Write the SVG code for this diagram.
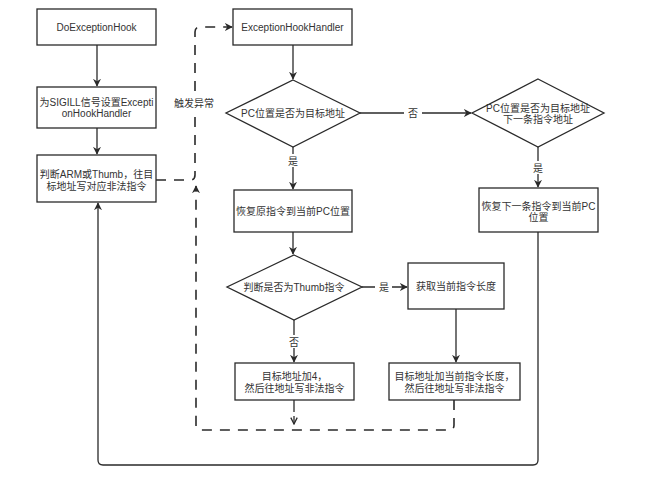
<svg xmlns="http://www.w3.org/2000/svg" width="662" height="480" viewBox="0 0 662 480">
<style>
.box{fill:#fff;stroke:#2a2a2a;stroke-width:1.3}
.t{font-family:"Liberation Sans","Noto Sans CJK SC",sans-serif;font-size:10px;fill:#333;text-anchor:middle}
.c{fill:none;stroke:#2a2a2a;stroke-width:1.3}
.d{fill:none;stroke:#2a2a2a;stroke-width:1.6;stroke-dasharray:10,8}
.lbl{fill:#fff}
</style>
<defs>
<marker id="a" viewBox="0 0 10 10" refX="9" refY="5" markerWidth="8" markerHeight="8" markerUnits="userSpaceOnUse" orient="auto">
<path d="M0,0 L10,5 L0,10 L3,5 z" fill="#2a2a2a"/>
</marker>
<marker id="v" viewBox="0 0 10 10" refX="9" refY="5" markerWidth="8" markerHeight="8" markerUnits="userSpaceOnUse" orient="auto">
<path d="M1,1 L9,5 L1,9" fill="none" stroke="#2a2a2a" stroke-width="1.6"/>
</marker>
</defs>
<rect width="662" height="480" fill="#fff"/>
<g id="connectors">
<path class="c" d="M97,45 V86" marker-end="url(#a)"/>
<path class="c" d="M97,128 V154" marker-end="url(#a)"/>
<path class="d" d="M156,180 H190 Q195,180 195,175 V32 Q195,27 200,27 H232" marker-end="url(#a)"/>
<path class="c" d="M293,45 V79" marker-end="url(#a)"/>
<path class="c" d="M360,113 H471" marker-end="url(#a)"/>
<path class="c" d="M293,147 V189" marker-end="url(#a)"/>
<path class="c" d="M538,147 V187" marker-end="url(#a)"/>
<path class="c" d="M538,232 V460 Q538,465 533,465 H103 Q98,465 98,460 V203" marker-end="url(#a)"/>
<path class="c" d="M293,232 V254" marker-end="url(#a)"/>
<path class="c" d="M362,287 H407" marker-end="url(#a)"/>
<path class="c" d="M294,320 V362" marker-end="url(#a)"/>
<path class="c" d="M456,309 V362" marker-end="url(#a)"/>
<path class="c" d="M294,400 V412"/>
<path class="c" d="M294,416 V424" marker-end="url(#v)"/>
<path class="d" d="M454,400 V425 Q454,430 449,430 H201 Q196,430 196,425 V186" marker-end="url(#a)"/>
<rect class="lbl" x="404" y="106" width="18" height="14"/>
<text class="t" x="413" y="117">否</text>
<rect class="lbl" x="285" y="154" width="16" height="13"/>
<text class="t" x="293" y="165">是</text>
<rect class="lbl" x="530" y="161" width="16" height="13"/>
<text class="t" x="538" y="172">是</text>
<rect class="lbl" x="375" y="280" width="17" height="13"/>
<text class="t" x="384" y="291">是</text>
<rect class="lbl" x="286" y="335" width="16" height="13"/>
<text class="t" x="294" y="346">否</text>
<rect class="lbl" x="174" y="96" width="40" height="14"/>
<text class="t" x="194" y="107">触发异常</text>
</g>
<g id="n1"><rect class="box" x="37" y="9" width="119" height="36"/><text class="t" x="96.500" y="31">DoExceptionHook</text></g>
<g id="n2"><rect class="box" x="37" y="87" width="119" height="41"/><text class="t" x="96.500" y="106">为SIGILL信号设置Excepti</text><text class="t" x="96.500" y="117">onHookHandler</text></g>
<g id="n3"><rect class="box" x="37" y="155" width="119" height="47"/><text class="t" x="96.500" y="178">判断ARM或Thumb，往目</text><text class="t" x="96.500" y="190">标地址写对应非法指令</text></g>
<g id="n4"><rect class="box" x="233" y="9" width="119" height="36"/><text class="t" x="292.500" y="31">ExceptionHookHandler</text></g>
<g id="n5"><polygon class="box" points="293,80 360,113 293,147 226,113"/><text class="t" x="293" y="117">PC位置是否为目标地址</text></g>
<g id="n6"><polygon class="box" points="538,79 604,113 538,147 472,113"/><text class="t" x="538" y="112">PC位置是否为目标地址</text><text class="t" x="538" y="123">下一条指令地址</text></g>
<g id="n7"><rect class="box" x="479" y="188" width="119" height="44"/><text class="t" x="538.500" y="210">恢复下一条指令到当前PC</text><text class="t" x="538.500" y="221">位置</text></g>
<g id="n8"><rect class="box" x="234" y="190" width="118" height="42"/><text class="t" x="293" y="215">恢复原指令到当前PC位置</text></g>
<g id="n9"><polygon class="box" points="294,255 362,287 294,320 227,287"/><text class="t" x="294" y="291">判断是否为Thumb指令</text></g>
<g id="n10"><rect class="box" x="408" y="263" width="96" height="46"/><text class="t" x="456" y="290">获取当前指令长度</text></g>
<g id="n11"><rect class="box" x="235" y="363" width="119" height="37"/><text class="t" x="294.500" y="380">目标地址加4，</text><text class="t" x="294.500" y="392">然后往地址写非法指令</text></g>
<g id="n12"><rect class="box" x="389" y="363" width="131" height="37"/><text class="t" x="454.500" y="380">目标地址加当前指令长度，</text><text class="t" x="454.500" y="392">然后往地址写非法指令</text></g>
</svg>
